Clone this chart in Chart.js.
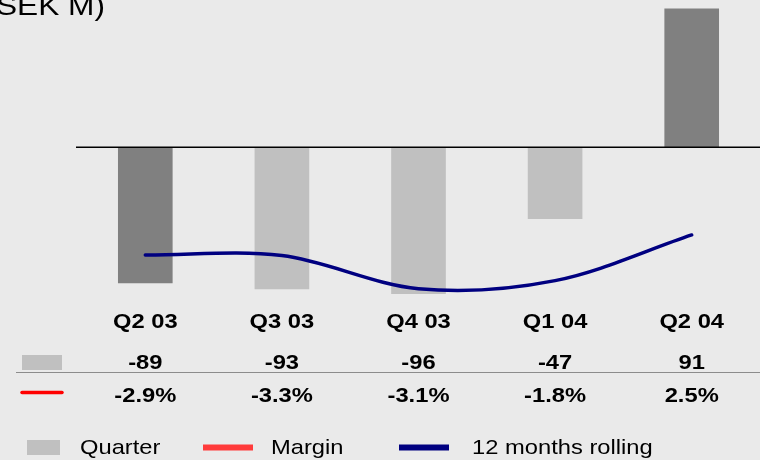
<!DOCTYPE html>
<html>
<head>
<meta charset="utf-8">
<script src="https://cdn.jsdelivr.net/npm/chart.js@4/dist/chart.umd.min.js"></script>
<style>
  html, body { margin: 0; padding: 0; background: #eaeaea; }
  #resultChart { display: block; }
</style>
</head>
<body>
<canvas id="resultChart" width="760" height="460"></canvas>
<script>
// ==========================================================================================================
// -- Data --
// ==========================================================================================================

const quarters = ['Q2 03', 'Q3 03', 'Q4 03', 'Q1 04', 'Q2 04'];
const quarterResult = [-89, -93, -96, -47, 91];
const marginPct = [-2.9, -3.3, -3.1, -1.8, 2.5];
const rolling12m = [-70.5, -70.9, -92.6, -87.3, -57.4];   // same y scale as bars
const barColors = ['#808080', '#c0c0c0', '#c0c0c0', '#c0c0c0', '#808080'];

const yMin = -100;
const yMax = 96.5;

// ==========================================================================================================
// -- Helpers --
// ==========================================================================================================

// the source picture is a bit wider than tall, so text gets a small x-stretch
const SX = 1.13;
const FONT = '"Liberation Sans", Arial, sans-serif';

function drawText(ctx, str, x, y, font, align) {
    ctx.save();
    ctx.translate(x, y);
    ctx.scale(SX, 1);
    ctx.font = font;
    ctx.fillStyle = '#000';
    ctx.textAlign = align;
    ctx.textBaseline = 'alphabetic';
    ctx.fillText(str, 0, 0);
    ctx.restore();
}

function drawLine(ctx, x1, x2, y, width, color, cap) {
    ctx.save();
    ctx.beginPath();
    ctx.moveTo(x1, y);
    ctx.lineTo(x2, y);
    ctx.lineWidth = width;
    ctx.strokeStyle = color;
    ctx.lineCap = cap || 'butt';
    ctx.stroke();
    ctx.restore();
}

// Table + legend plugin -----------------------------------------------------------------------
const tablePlugin = {
    id: 'tablePlugin',
    beforeDraw(chart) {
        const ctx = chart.ctx;
        ctx.save();
        ctx.fillStyle = '#eaeaea';
        ctx.fillRect(0, 0, chart.width, chart.height);
        ctx.restore();
    },
    afterDatasetsDraw(chart) {
        const ctx = chart.ctx;
        const xs = chart.scales.x;
        const ys = chart.scales.y;
        const area = chart.chartArea;

        // zero line
        const y0 = ys.getPixelForValue(0);
        drawLine(ctx, area.left - 1, area.right, y0, 1.5, '#000');

        // title (cut off at the left edge like the original)
        drawText(ctx, 'SEK M)', 105, 15, '28px ' + FONT, 'right');

        // table rows
        const bold = 'bold 21px ' + FONT;
        quarters.forEach((q, i) => {
            const cx = xs.getPixelForValue(i);
            drawText(ctx, q, cx, 328, bold, 'center');
            drawText(ctx, String(quarterResult[i]), cx, 369, bold, 'center');
            drawText(ctx, marginPct[i].toFixed(1) + '%', cx, 401.5, bold, 'center');
        });

        // row markers + separator
        ctx.save();
        ctx.fillStyle = '#c0c0c0';
        ctx.fillRect(22, 355, 40, 15);
        ctx.restore();
        drawLine(ctx, 16, chart.width, 372.5, 1, '#8c8c8c');
        drawLine(ctx, 22, 62, 392.5, 3.5, '#ff0000', 'round');

        // legend
        const reg = '21px ' + FONT;
        ctx.save();
        ctx.fillStyle = '#c0c0c0';
        ctx.fillRect(27, 440, 33, 15);
        ctx.restore();
        drawText(ctx, 'Quarter', 80, 454, reg, 'left');
        drawLine(ctx, 203, 253, 447.5, 6, '#ff3b3b');
        drawText(ctx, 'Margin', 271, 454, reg, 'left');
        drawLine(ctx, 399, 449, 447.5, 6, '#000080');
        drawText(ctx, '12 months rolling', 472, 454, reg, 'left');
    }
};

// ==========================================================================================================
// -- Chart --
// ==========================================================================================================

const ctx = document.getElementById('resultChart').getContext('2d');

new Chart(ctx, {
    data: {
        labels: quarters,
        datasets: [
            {
                type: 'line',
                label: '12 months rolling',
                data: rolling12m,
                borderColor: '#000080',
                borderWidth: 3.5,
                borderCapStyle: 'round',
                tension: 0.33,
                pointRadius: 0,
                fill: false,
                order: 0,
            },
            {
                type: 'bar',
                label: 'Quarter',
                data: quarterResult,
                backgroundColor: barColors,
                borderWidth: 0,
                barPercentage: 0.4,
                categoryPercentage: 1.0,
                order: 1,
            },
        ],
    },
    options: {
        responsive: false,
        devicePixelRatio: 1,
        animation: false,
        events: [],
        layout: { padding: { left: 77, right: 0, top: 0, bottom: 160 } },
        scales: {
            x: { display: false },
            y: { display: false, min: yMin, max: yMax },
        },
        plugins: {
            legend: { display: false },
            tooltip: { enabled: false },
        },
    },
    plugins: [tablePlugin],
});
</script>
</body>
</html>
